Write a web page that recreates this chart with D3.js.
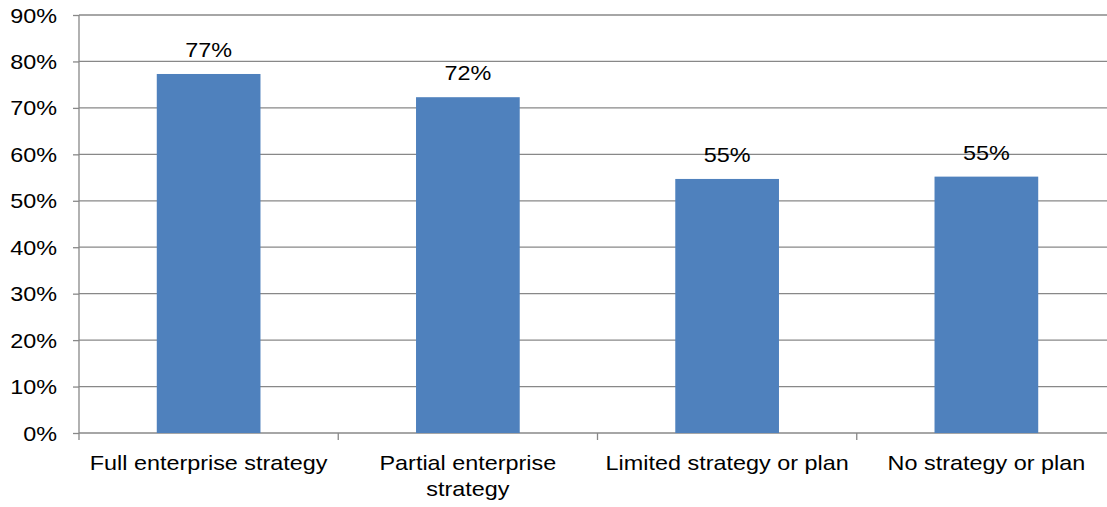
<!DOCTYPE html>
<html>
<head>
<meta charset="utf-8">
<script src="https://cdn.jsdelivr.net/npm/d3@7"></script>
<style>
  body { margin: 0; background: #fff; }
  svg text { font-family: "Liberation Sans", Arial, sans-serif; fill: #000; }
</style>
</head>
<body>
<svg width="1107" height="507"></svg>
<script>
var categories = ["Full enterprise strategy", "Partial enterprise strategy", "Limited strategy or plan", "No strategy or plan"];
var values = [77.3, 72.3, 54.7, 55.2];
var valueLabels = ["77%", "72%", "55%", "55%"];
var yTicks = [0, 10, 20, 30, 40, 50, 60, 70, 80, 90];

var svg = d3.select("svg"),
    margin = {top: 15, right: -9, bottom: 74, left: 79},
    width = +svg.attr("width") - margin.left - margin.right,
    height = +svg.attr("height") - margin.top - margin.bottom,
    g = svg.append("g").attr("transform", "translate(" + margin.left + "," + margin.top + ")");

var stretch = 1.17; // text in the picture is a bit wide

var x = d3.scaleBand()
    .domain(categories)
    .range([0, width])
    .paddingInner(0.6)
    .paddingOuter(0.3);

var y = d3.scaleLinear()
    .domain([0, 90])
    .range([height, 0]);

// gridlines
g.append("g")
  .selectAll("line")
  .data(yTicks)
  .enter().append("line")
    .attr("x1", 0)
    .attr("x2", width)
    .attr("y1", function(d) { return y(d); })
    .attr("y2", function(d) { return y(d); })
    .attr("stroke", "#888")
    .attr("stroke-width", 1.3);

// bars
g.selectAll(".bar")
  .data(values)
  .enter().append("rect")
    .attr("class", "bar")
    .attr("x", function(d, i) { return x(categories[i]); })
    .attr("width", x.bandwidth())
    .attr("y", function(d) { return y(d); })
    .attr("height", function(d) { return height - y(d); })
    .attr("fill", "#4F81BD");

// value labels
g.selectAll(".vlabel")
  .data(values)
  .enter().append("text")
    .attr("class", "vlabel")
    .attr("transform", function(d, i) {
      return "translate(" + (x(categories[i]) + x.bandwidth() / 2) + "," + (y(d) - 17) + ") scale(" + stretch + ",1)";
    })
    .attr("text-anchor", "middle")
    .style("font-size", "20px")
    .text(function(d, i) { return valueLabels[i]; });

// y axis
var yAxis = g.append("g")
    .call(d3.axisLeft(y).tickValues(yTicks).tickSize(6).tickPadding(0).tickFormat(function(d) { return d + "%"; }));
yAxis.select(".domain").attr("stroke", "#888").attr("stroke-width", 1.3).attr("d", "M0," + height + "V0");
yAxis.selectAll(".tick line").attr("stroke", "#888").attr("stroke-width", 1.3);
yAxis.selectAll(".tick text")
    .attr("x", null)
    .attr("dy", "0.35em")
    .attr("transform", "translate(-22,0) scale(" + stretch + ",1)")
    .style("font-size", "20px")
    .attr("fill", "#000");

// x axis: boundary ticks between categories
var bounds = d3.range(categories.length + 1).map(function(i) { return i * width / categories.length; });
g.append("g")
  .selectAll("line")
  .data(bounds)
  .enter().append("line")
    .attr("x1", function(d) { return d; })
    .attr("x2", function(d) { return d; })
    .attr("y1", height)
    .attr("y2", height + 7)
    .attr("stroke", "#888")
    .attr("stroke-width", 1.3);

// category labels, wrapped to the band
var step = width / categories.length;
var cl = g.selectAll(".clabel")
  .data(categories)
  .enter().append("text")
    .attr("class", "clabel")
    .attr("transform", function(d) {
      return "translate(" + (x(d) + x.bandwidth() / 2) + "," + (height + 37) + ") scale(" + stretch + ",1)";
    })
    .attr("text-anchor", "middle")
    .style("font-size", "20px");

cl.each(function(d) {
  var t = d3.select(this), words = d.split(" "), line = [];
  var tspan = t.append("tspan").attr("x", 0).attr("dy", 0);
  words.forEach(function(w) {
    line.push(w);
    tspan.text(line.join(" "));
    if (tspan.node().getComputedTextLength() * stretch > step - 6 && line.length > 1) {
      line.pop();
      tspan.text(line.join(" "));
      line = [w];
      tspan = t.append("tspan").attr("x", 0).attr("dy", "1.3em").text(w);
    }
  });
});
</script>
</body>
</html>
